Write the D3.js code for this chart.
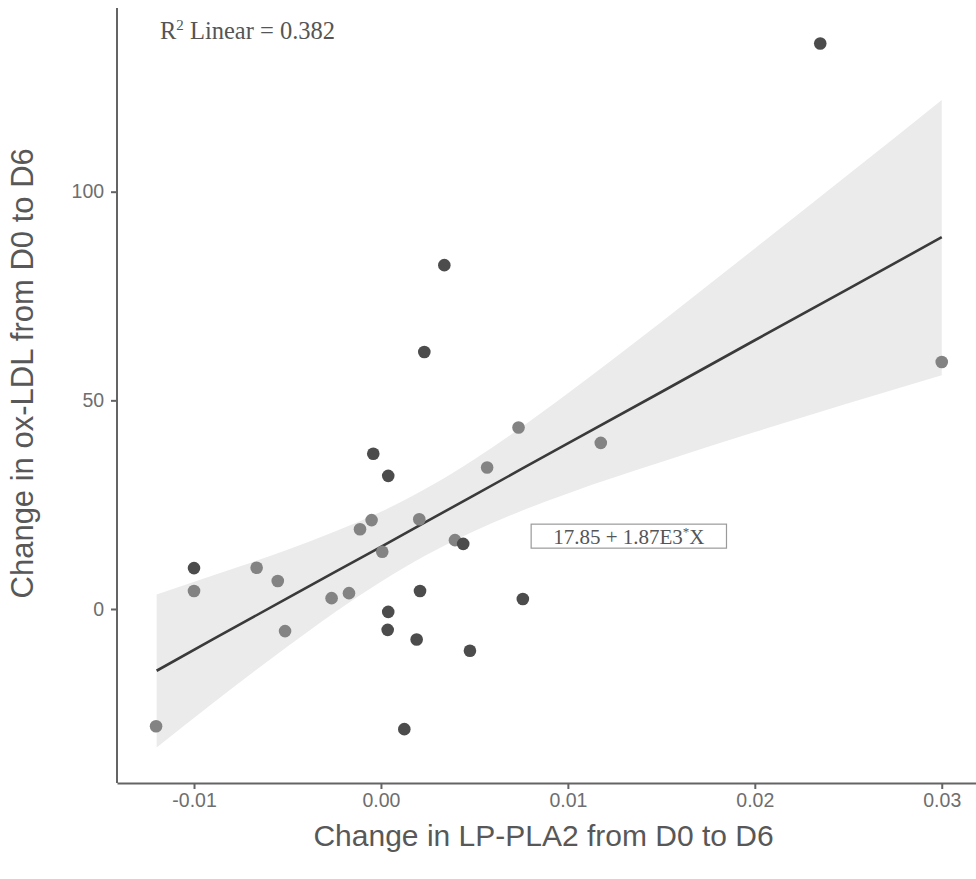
<!DOCTYPE html>
<html>
<head>
<meta charset="utf-8">
<script src="https://cdn.jsdelivr.net/npm/d3@7"></script>
<style>
  html, body { margin: 0; padding: 0; background: #fff; }
  svg { display: block; }
  .tick text { font-family: "Liberation Sans", Arial, sans-serif; }
</style>
</head>
<body>
<svg id="chart" width="976" height="879"></svg>
<script>
// points, two shades of grey
const darkX = [0.0235, 0.00339, 0.00232, -0.00041, 0.00039, 0.0044, -0.01, 0.00209, 0.00039, 0.00036, 0.00191, 0.00476, 0.00125, 0.00759];
const darkY = [135.5, 82.4, 61.6, 37.2, 31.9, 15.6, 9.8, 4.3, -0.7, -5.0, -7.3, -10.0, -28.8, 2.4];
const lightX = [0.03, 0.00736, 0.01176, 0.00568, -0.0005, -0.00112, 0.00205, 0.00396, 0.00007, -0.01, -0.00665, -0.00552, -0.00264, -0.00171, -0.00513, -0.01203];
const lightY = [59.2, 43.5, 39.8, 33.9, 21.3, 19.1, 21.5, 16.5, 13.7, 4.3, 9.9, 6.7, 2.6, 3.8, -5.3, -28.1];

// fitted line and its confidence band, as drawn
const fitX = [-0.0120, -0.009, -0.005, -0.0025, 0, 0.0025, 0.005, 0.0075, 0.01, 0.015, 0.02, 0.025, 0.03];
const fitY = [-14.8, -7.3, 2.6, 8.8, 14.9, 21.1, 27.3, 33.5, 39.7, 52.0, 64.4, 76.7, 89.1];
const fitLow = [-33.2, -22.6, -9.0, -0.9, 6.5, 13.1, 18.7, 23.5, 27.7, 35.2, 42.4, 49.3, 56.0];
const fitHigh = [3.5, 8.0, 14.2, 18.5, 23.3, 29.1, 35.9, 43.5, 51.7, 68.8, 86.4, 104.1, 122.0];

const xTicks = [-0.01, 0, 0.01, 0.02, 0.03];
const yTicks = [0, 50, 100];
const xTitle = 'Change in LP-PLA2 from D0 to D6';
const yTitle = 'Change in ox-LDL from D0 to D6';
const r2Label = 'Linear = 0.382';
const eqLabel = { x: 0.01326, y: 17.3, text: '17.85 + 1.87E3', sup: '*', tail: 'X' };

const margin = { top: 6, left: 117 };
const width = 864;
const height = 777;

const svg = d3.select('#chart');
const g = svg.append('g').attr('transform', `translate(${margin.left},${margin.top})`);

const x = d3.scaleLinear().domain([-0.01412, 0.0321]).range([0, width]);
const y = d3.scaleLinear().domain([-41.7, 144.5]).range([height, 0]);

const axisColor = '#646464';

// 1. confidence band
const band = fitX.map((v, i) => ({ x: v, lo: fitLow[i], hi: fitHigh[i], y: fitY[i] }));
g.append('path')
  .datum(band)
  .attr('fill', '#ebebeb')
  .attr('d', d3.area().x((d) => x(d.x)).y0((d) => y(d.lo)).y1((d) => y(d.hi)).curve(d3.curveMonotoneX));

// 2. regression line
g.append('path')
  .datum(band)
  .attr('fill', 'none')
  .attr('stroke', '#3a3a3a')
  .attr('stroke-width', 2.6)
  .attr('d', d3.line().x((d) => x(d.x)).y((d) => y(d.y)));

// 3. points
const points = [
  ...lightX.map((v, i) => ({ x: v, y: lightY[i], group: 'light' })),
  ...darkX.map((v, i) => ({ x: v, y: darkY[i], group: 'dark' })),
];
const colors = d3.scaleOrdinal(['light', 'dark'], ['#838383', '#4c4c4c']);
g.append('g')
  .selectAll('circle')
  .data(points)
  .enter()
  .append('circle')
  .attr('cx', (d) => x(d.x))
  .attr('cy', (d) => y(d.y))
  .attr('r', 6.3)
  .attr('fill', (d) => colors(d.group));

// 4. axes
const xAxis = g.append('g')
  .attr('transform', `translate(0,${height})`)
  .call(d3.axisBottom(x).tickValues(xTicks).tickSize(6).tickSizeOuter(0)
    .tickFormat((d) => d3.format('.2f')(d).replace('\u2212', '-')));
const yAxis = g.append('g')
  .call(d3.axisLeft(y).tickValues(yTicks).tickSize(6).tickSizeOuter(0));

[xAxis, yAxis].forEach((a) => {
  a.select('.domain').attr('stroke', axisColor).attr('stroke-width', 2);
  a.selectAll('.tick line').attr('stroke', axisColor).attr('stroke-width', 2);
  a.selectAll('.tick text').attr('fill', '#6e6e6e').attr('font-size', 19.5);
});
xAxis.selectAll('.tick text').attr('dy', '0.78em');
yAxis.selectAll('.tick text').attr('dx', '-0.2em');

// vertical axis line stops just below the top edge
yAxis.select('.domain').attr('d', `M0,${height}V2`);

// 5. axis titles
svg.append('text')
  .attr('x', margin.left + x(0.0087))
  .attr('y', 846)
  .attr('text-anchor', 'middle')
  .attr('font-family', '"Liberation Sans", Arial, sans-serif')
  .attr('font-size', 30)
  .attr('fill', '#585858')
  .text(xTitle);

svg.append('text')
  .attr('transform', `translate(33,${margin.top + y(50) - 27}) rotate(-90)`)
  .attr('text-anchor', 'middle')
  .attr('font-family', '"Liberation Sans", Arial, sans-serif')
  .attr('font-size', 31)
  .attr('fill', '#585858')
  .text(yTitle);

// 6. annotations
const r2 = svg.append('text')
  .attr('x', 160)
  .attr('y', 39)
  .attr('font-family', '"Liberation Serif", "Times New Roman", serif')
  .attr('font-size', 24.5)
  .attr('fill', '#555');
r2.append('tspan').text('R');
r2.append('tspan').attr('font-size', 15).attr('dy', -9).text('2');
r2.append('tspan').attr('dy', 9).text(' ' + r2Label);

const eqG = g.append('g').attr('transform', `translate(${x(eqLabel.x)},${y(eqLabel.y)})`);
const eqText = eqG.append('text')
  .attr('text-anchor', 'middle')
  .attr('dy', '0.35em')
  .attr('font-family', '"Liberation Serif", "Times New Roman", serif')
  .attr('font-size', 21)
  .attr('fill', '#555');
eqText.append('tspan').text(eqLabel.text);
eqText.append('tspan').attr('font-size', 13).attr('dy', -8).text(eqLabel.sup);
eqText.append('tspan').attr('dy', 8).text(eqLabel.tail);
const bb = eqText.node().getBBox();
eqG.insert('rect', 'text')
  .attr('x', bb.x - 22)
  .attr('y', bb.y)
  .attr('width', bb.width + 44)
  .attr('height', bb.height - 1)
  .attr('fill', '#fff')
  .attr('stroke', '#9a9a9a')
  .attr('stroke-width', 1.2);
</script>
</body>
</html>
